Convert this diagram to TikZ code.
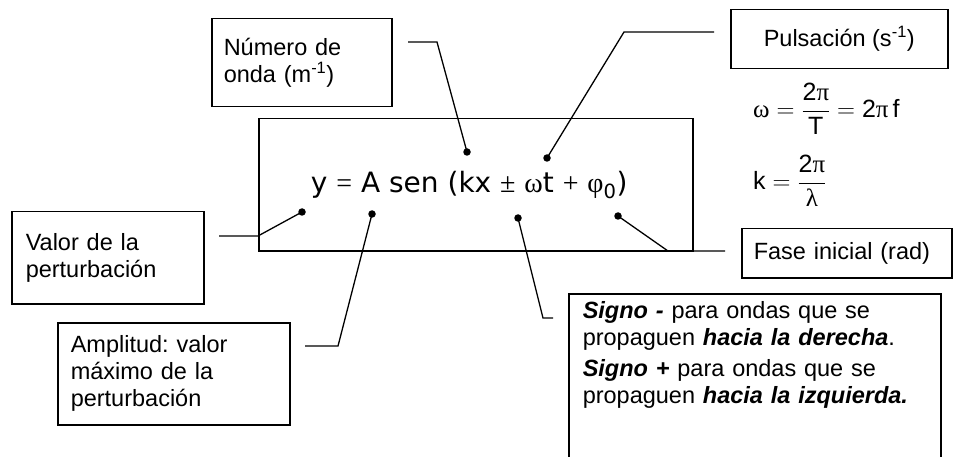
\documentclass[tikz,border=0pt]{standalone}
\usepackage{amsmath}
\usepackage{fontspec}
\setmainfont{Liberation Sans}
\newfontfamily\dejavu{DejaVu Sans}
\newfontfamily\symb{Liberation Serif}
\usetikzlibrary{positioning}

\begin{document}
\begin{tikzpicture}[x=1pt,y=-1pt,
  caja/.style={draw,line width=1.5pt,align=left,inner ysep=0pt,anchor=north west,font=\fontsize{23.5}{27}\selectfont\frenchspacing},
  punto/.style={circle,fill,inner sep=0pt,minimum size=7.5pt},
  conector/.style={line width=1.3pt},
  formula/.style={anchor=west,inner sep=0pt,font=\fontsize{25}{29}\selectfont}]
\clip (0,0) rectangle (953,457);
\node[caja,minimum width=180,minimum height=88,text width=156,inner xsep=12pt] (numero) at (211,18) {Número de\\onda (m\textsuperscript{-1})};
\node[caja,minimum width=217,minimum height=59,align=center] (pulsacion) at (730,9) {Pulsación (s\textsuperscript{-1})};
\node[caja,minimum width=434,minimum height=132,align=center] (ecuacion) at (258,118)
  {\dejavu\fontsize{28}{32}\selectfont y {\symb =} A sen (kx {\symb ±} {\symb ω}t {\symb +} {\symb φ}\textsubscript{0})\hspace{13pt}};
\node[caja,minimum width=192,minimum height=92,text width=164,inner xsep=14pt] (valor) at (11,211) {Valor de la\\perturbación};
\node[caja,minimum width=232,minimum height=102,text width=206,inner xsep=13pt] (amplitud) at (57,322) {Amplitud: valor\\máximo de la\\perturbación};
\node[caja,minimum width=210,minimum height=49,text width=186,inner xsep=12pt] (fase) at (741,228) {Fase inicial (rad)};
\node[caja,text width=344,inner xsep=14pt,inner ysep=8pt] (signo) at (568,293)
  {\parbox[t][190pt][t]{344pt}{\textbf{\textit{Signo -}} para ondas que se\\
   propaguen \textbf{\textit{hacia la derecha}}.\\[4pt]
   \textbf{\textit{Signo +}} para ondas que se\\
   propaguen \textbf{\textit{hacia la izquierda.}}}};
\node[formula] (omega) at (753,109) {$\mbox{\symb ω} = \dfrac{\mbox{2{\symb π}}}{\mbox{T}} = \mbox{2{\symb π}\,f}$};
\node[formula] (knum) at (753,181) {$\mbox{k} = \dfrac{\mbox{2{\symb π}}}{\mbox{\symb λ}}$};
\node[punto] (pnumero) at (467,152) {};
\node[punto] (ppulsacion) at (547,158) {};
\node[punto] (pvalor) at (302,212) {};
\node[punto] (pamplitud) at (372,214) {};
\node[punto] (psigno) at (518,218) {};
\node[punto] (pfase) at (618,216) {};
\coordinate (n1) at (408,42);
\coordinate (n2) at (437,42);
\coordinate (q1) at (714,32);
\coordinate (q2) at (624,32);
\coordinate (v1) at (219,236);
\coordinate (v2) at (258,236);
\coordinate (a1) at (305,346);
\coordinate (a2) at (338,346);
\coordinate (s1) at (553,318);
\coordinate (s2) at (543,318);
\coordinate (f1) at (725,251);
\coordinate (f2) at (668,251);
\draw[conector] (n1) -- (n2) -- (pnumero.center);
\draw[conector] (q1) -- (q2) -- (ppulsacion.center);
\draw[conector] (v1) -- (v2) -- (pvalor.center);
\draw[conector] (a1) -- (a2) -- (pamplitud.center);
\draw[conector] (s1) -- (s2) -- (psigno.center);
\draw[conector] (f1) -- (f2) -- (pfase.center);
\end{tikzpicture}
\end{document}
